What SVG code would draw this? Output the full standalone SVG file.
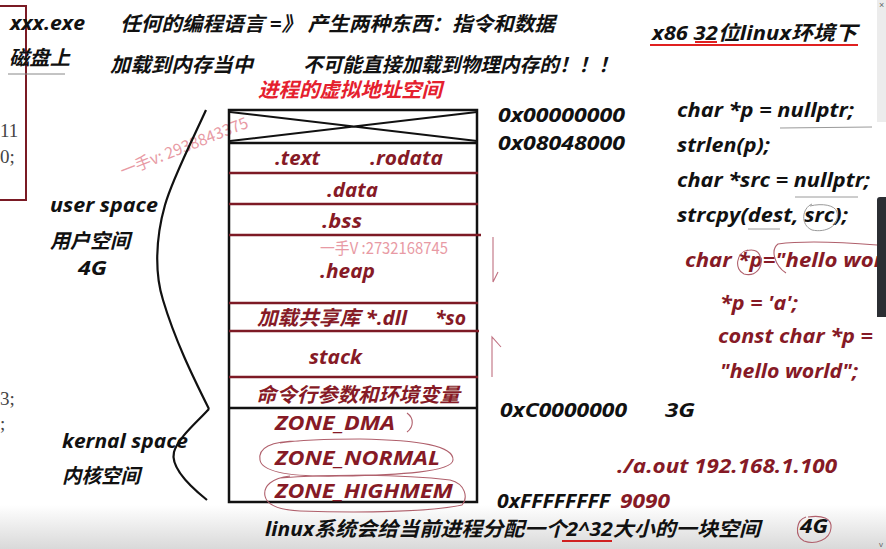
<svg xmlns="http://www.w3.org/2000/svg" width="886" height="549" viewBox="0 0 886 549">
<defs>
<linearGradient id="bot" x1="0" y1="0" x2="0" y2="1">
<stop offset="0" stop-color="#ffffff"/>
<stop offset="1" stop-color="#d9d9d9"/>
</linearGradient>
<style>
.t{font-family:"Open Sans","Noto Sans CJK SC",sans-serif;font-weight:700;font-style:italic;font-size:20px;}
.k{fill:#111111;}
.r{fill:#861a26;}
.s{font-family:"Liberation Serif",serif;fill:#444444;font-size:19px;}
.wm{font-family:"Noto Sans CJK SC",sans-serif;font-weight:400;font-size:16px;fill:#e89aa4;}
.sep{stroke:#7d1a25;stroke-width:2.5;fill:none;}
.blk{stroke:#111111;stroke-width:2.5;fill:none;}
.ann{stroke:#9a9a9a;stroke-width:1;fill:none;}
.pk{stroke:#b0606c;stroke-width:1.1;fill:none;}
</style>
</defs>
<rect width="886" height="549" fill="#ffffff"/>
<rect x="0" y="505" width="886" height="44" fill="url(#bot)"/>

<!-- left margin -->
<g id="leftbox">
<path d="M0,6 L26,6 L26,200 L0,200" stroke="#7a1a24" stroke-width="2" fill="none"/>
<text class="s" x="0" y="137">11</text>
<text class="s" x="0" y="163">0;</text>
<text class="s" x="0" y="405">3;</text>
<text class="s" x="0" y="430">;</text>
</g>

<g id="header">
<text class="t k" x="10" y="30" textLength="75" lengthAdjust="spacingAndGlyphs">xxx.exe</text>
<text class="t k" x="9" y="65" textLength="61" lengthAdjust="spacingAndGlyphs">磁盘上</text>
<line x1="8" y1="74" x2="65" y2="74" stroke="#888" stroke-width="1"/>
<text class="t k" x="120" y="31" textLength="435" lengthAdjust="spacingAndGlyphs">任何的编程语言 =》 产生两种东西：指令和数据</text>
<text class="t k" x="110" y="72" textLength="143" lengthAdjust="spacingAndGlyphs">加载到内存当中</text>
<text class="t k" x="303" y="72" textLength="315" lengthAdjust="spacingAndGlyphs">不可能直接加载到物理内存的！！！</text>
<text class="t" x="258" y="97" font-size="19" fill="#e5202e" textLength="184" lengthAdjust="spacingAndGlyphs">进程的虚拟地址空间</text>
<text class="t k" x="652" y="40" font-size="19" textLength="205" lengthAdjust="spacingAndGlyphs">x86 32位linux环境下</text>
<line x1="650" y1="45" x2="858" y2="45" stroke="#e02020" stroke-width="2"/>
<line x1="695" y1="42" x2="717" y2="42" stroke="#e02020" stroke-width="2"/>
</g>

<!-- watermarks -->
<text class="wm" x="123" y="177" transform="rotate(-21.5 123 177)" textLength="136" lengthAdjust="spacingAndGlyphs">一手v: 2938843375</text>

<!-- memory layout -->
<g id="vas">
<rect x="229" y="110" width="248" height="392" class="blk"/>
<line x1="229" y1="143" x2="477" y2="143" class="blk"/>
<path d="M230,112 L477,141 M230,141 L477,112" stroke="#111" stroke-width="2" fill="none"/>
<g id="seg-text"><text class="t r" x="275" y="165" textLength="45" lengthAdjust="spacingAndGlyphs">.text</text>
<text class="t r" x="370" y="165" textLength="73" lengthAdjust="spacingAndGlyphs">.rodata</text></g>
<line x1="229" y1="173" x2="478" y2="173" class="sep"/>
<g id="seg-data"><text class="t r" x="327" y="197" textLength="51" lengthAdjust="spacingAndGlyphs">.data</text></g>
<line x1="229" y1="204" x2="478" y2="204" class="sep"/>
<g id="seg-bss"><text class="t r" x="322" y="228" textLength="40" lengthAdjust="spacingAndGlyphs">.bss</text></g>
<line x1="229" y1="235" x2="481" y2="235" class="sep"/>
<g id="seg-heap"><text class="t r" x="320" y="278" textLength="55" lengthAdjust="spacingAndGlyphs">.heap</text></g>
<text class="wm" x="320" y="254" font-size="16" textLength="128" lengthAdjust="spacingAndGlyphs">一手V :2732168745</text>
<line x1="229" y1="303" x2="478" y2="303" class="sep"/>
<g id="seg-shlib"><text class="t r" x="257" y="325" textLength="150" lengthAdjust="spacingAndGlyphs">加载共享库 *.dll</text>
<text class="t r" x="435" y="325" textLength="31" lengthAdjust="spacingAndGlyphs">*so</text></g>
<line x1="229" y1="331" x2="479" y2="331" class="sep"/>
<g id="seg-stack"><text class="t r" x="309" y="364" textLength="53" lengthAdjust="spacingAndGlyphs">stack</text></g>
<line x1="229" y1="377" x2="478" y2="377" class="sep"/>
<g id="seg-args"><text class="t r" x="256" y="402" textLength="204" lengthAdjust="spacingAndGlyphs">命令行参数和环境变量</text></g>
<line x1="229" y1="408" x2="477" y2="408" class="blk"/>
<g id="zone-dma"><text class="t r" x="275" y="430" textLength="120" lengthAdjust="spacingAndGlyphs">ZONE_DMA</text>
<path class="pk" d="M407,413 C414,418 414,427 407,432"/></g>
<g id="zone-normal"><text class="t r" x="275" y="465" textLength="165" lengthAdjust="spacingAndGlyphs">ZONE_NORMAL</text>
<path class="pk" d="M300,441 C270,441 258,448 260,460 C262,472 290,477 340,476 C400,475 452,472 453,460 C454,446 420,440 360,439 C330,439 300,440 280,443"/></g>
<g id="zone-highmem"><text class="t r" x="275" y="498" textLength="178" lengthAdjust="spacingAndGlyphs">ZONE_HIGHMEM</text>
<path class="pk" d="M290,476 C272,478 263,486 265,496 C267,506 280,510 300,511 C360,513 430,512 462,505 C468,498 466,484 450,480 C400,474 330,474 280,478"/></g>
</g>

<!-- braces and arrows -->
<g id="connectors">
<path d="M206,110 C190,145 172,180 165,205 C155,240 155,275 163,300 C175,340 192,375 209,409" stroke="#111" stroke-width="2.2" fill="none"/>
<path d="M209,409 C196,423 178,438 174,452 C170,468 192,488 207,500" stroke="#111" stroke-width="2.2" fill="none"/>
<path d="M493,237 L493,282 L498,272" stroke="#c07080" stroke-width="1.1" fill="none"/>
<path d="M492,377 L492,337 L501,347" stroke="#c07080" stroke-width="1.1" fill="none"/>
</g>

<g id="side-labels">
<text class="t k" x="50" y="212" font-size="19" textLength="108" lengthAdjust="spacingAndGlyphs">user space</text>
<text class="t k" x="50" y="248" textLength="80" lengthAdjust="spacingAndGlyphs">用户空间</text>
<text class="t k" x="78" y="275" textLength="29" lengthAdjust="spacingAndGlyphs">4G</text>
<text class="t k" x="62" y="448" font-size="19" textLength="126" lengthAdjust="spacingAndGlyphs">kernal space</text>
<text class="t k" x="62" y="483" textLength="78" lengthAdjust="spacingAndGlyphs">内核空间</text>
</g>

<g id="addresses">
<text class="t k" x="498" y="122" textLength="127" lengthAdjust="spacingAndGlyphs">0x00000000</text>
<text class="t k" x="498" y="150" textLength="127" lengthAdjust="spacingAndGlyphs">0x08048000</text>
<text class="t k" x="500" y="417" textLength="127" lengthAdjust="spacingAndGlyphs">0xC0000000</text>
<text class="t k" x="665" y="417" textLength="30" lengthAdjust="spacingAndGlyphs">3G</text>
<text class="t k" x="497" y="508" textLength="113" lengthAdjust="spacingAndGlyphs">0xFFFFFFFF</text>
<text class="t r" x="620" y="508" textLength="50" lengthAdjust="spacingAndGlyphs">9090</text>
<text class="t r" x="617" y="473" textLength="220" lengthAdjust="spacingAndGlyphs">./a.out 192.168.1.100</text>
</g>

<g id="code">
<text class="t k" x="677" y="117" textLength="177" lengthAdjust="spacingAndGlyphs">char *p = nullptr;</text>
<text class="t k" x="677" y="152" textLength="93" lengthAdjust="spacingAndGlyphs">strlen(p);</text>
<text class="t k" x="677" y="187" textLength="193" lengthAdjust="spacingAndGlyphs">char *src = nullptr;</text>
<text class="t k" x="677" y="222" textLength="171" lengthAdjust="spacingAndGlyphs">strcpy(dest, src);</text>
<path class="ann" d="M780,128 L872,127 M795,197 L858,197 M748,229 L780,229"/>
<path class="ann" d="M812,204 C802,208 800,225 812,230 C826,233 840,226 837,212 C835,205 822,203 810,206"/>
<text class="t r" x="685" y="267" textLength="198" lengthAdjust="spacingAndGlyphs">char *p="hello wor</text>
<path class="pk" d="M748,250 C736,252 734,270 744,274 C755,277 764,268 760,256 C758,250 752,249 746,251"/>
<path class="pk" d="M877,245 C840,242 800,241 778,244 C770,250 775,266 786,273"/>
<text class="t r" x="720" y="310" textLength="78" lengthAdjust="spacingAndGlyphs">*p = 'a';</text>
<text class="t r" x="718" y="343" textLength="155" lengthAdjust="spacingAndGlyphs">const char *p =</text>
<text class="t r" x="720" y="378" textLength="138" lengthAdjust="spacingAndGlyphs">"hello world";</text>
</g>

<g id="footer">
<text class="t k" x="265" y="536" textLength="495" lengthAdjust="spacingAndGlyphs">linux系统会给当前进程分配一个2^32大小的一块空间</text>
<line x1="562" y1="541" x2="612" y2="541" stroke="#d02020" stroke-width="2"/>
<text class="t k" x="800" y="533" textLength="28" lengthAdjust="spacingAndGlyphs">4G</text>
<path class="pk" d="M806,517 C796,520 794,536 804,541 C815,545 830,540 831,528 C832,518 822,515 808,517"/>
</g>

<!-- scrollbar -->
<g id="scrollbar">
<rect x="877" y="0" width="9" height="122" fill="#ececec"/>
<path d="M880,197 L886,197 L886,317 L877,317 L877,200 Q877,197 880,197 Z" fill="#2b2e33"/>
<text x="879" y="8" font-family="Liberation Sans, sans-serif" font-size="9" fill="#666">×</text>
<text x="879" y="547" font-family="Liberation Sans, sans-serif" font-size="8" fill="#666">v</text>
</g>
</svg>
